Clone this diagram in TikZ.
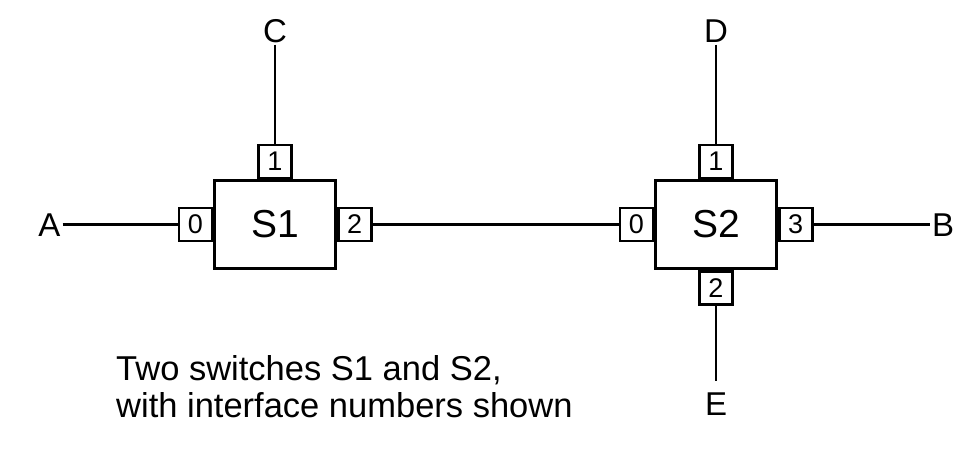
\documentclass[tikz,border=0pt]{standalone}
\usepackage{fontspec}
\setmainfont{Liberation Sans}
\begin{document}
\begin{tikzpicture}[x=1pt,y=-1pt,
  switchbox/.style={draw=black,line width=2.8pt,minimum width=121pt,minimum height=88pt,inner sep=0pt,font=\fontsize{39}{41}\selectfont},
  portbox/.style={draw=black,line width=2.6pt,minimum size=33pt,inner sep=0pt,fill=white,font=\fontsize{27}{29}\selectfont},
  endlabel/.style={inner sep=2pt,text height=24pt,text depth=0pt,font=\fontsize{33}{35}\selectfont},
  wire/.style={line width=2.4pt}]
\path[use as bounding box,fill=white] (0,0) rectangle (972,448);
% switches
\node[switchbox] (S1) at (275,224.5) {S1};
\node[switchbox] (S2) at (716,224.5) {S2};
% ports of S1
\node[portbox,anchor=east]  (s1p0) at (S1.west)  {0};
\node[portbox,anchor=south] (s1p1) at (S1.north) {1};
\node[portbox,anchor=west]  (s1p2) at (S1.east)  {2};
% ports of S2
\node[portbox,anchor=east]  (s2p0) at (S2.west)  {0};
\node[portbox,anchor=south] (s2p1) at (S2.north) {1};
\node[portbox,anchor=north] (s2p2) at (S2.south) {2};
\node[portbox,anchor=west]  (s2p3) at (S2.east)  {3};
% end labels
\node[endlabel] (A) at (49.5,224.5) {A};
\node[endlabel] (C) at (275,30.5) {C};
\node[endlabel] (D) at (716,30.5) {D};
\node[endlabel] (B) at (943,224.5) {B};
\node[endlabel] (E) at (716,403.5) {E};
% wires
\draw[wire] (A) -- (s1p0);
\draw[wire] (C) -- (s1p1);
\draw[wire] (s1p2) -- (s2p0);
\draw[wire] (D) -- (s2p1);
\draw[wire] (s2p3) -- (B);
\draw[wire,shorten >=8pt] (s2p2) -- (E);
% caption
\node[anchor=base west,align=left,inner sep=0pt,font=\fontsize{34.5}{37}\selectfont] (cap) at (116,417)
  {Two switches S1 and S2,\\with interface numbers shown};
\end{tikzpicture}
\end{document}
